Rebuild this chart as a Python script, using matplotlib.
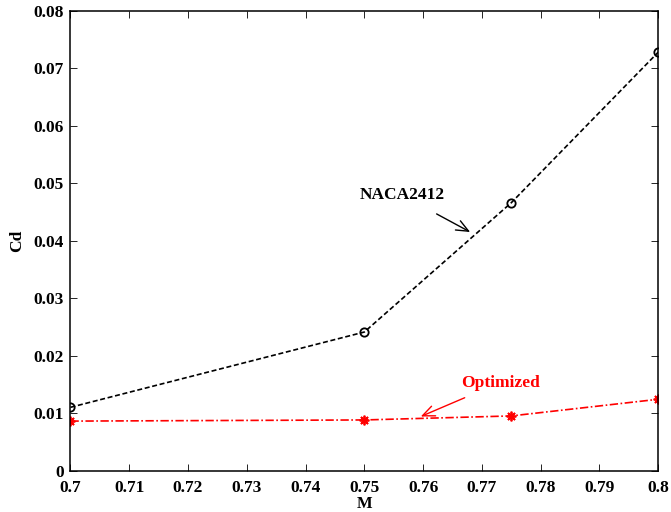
import matplotlib
matplotlib.use("Agg")
import matplotlib.pyplot as plt

M = [0.7, 0.75, 0.775, 0.8]
cd_naca = [0.0110, 0.0241, 0.0466, 0.0728]
cd_opt = [0.0086, 0.0088, 0.0095, 0.0124]
xticks = [0.7, 0.71, 0.72, 0.73, 0.74, 0.75, 0.76, 0.77, 0.78, 0.79, 0.8]
yticks = [0, 0.01, 0.02, 0.03, 0.04, 0.05, 0.06, 0.07, 0.08]

plt.rcParams['font.family'] = ['Liberation Serif', 'DejaVu Serif']
plt.rcParams['font.weight'] = 'bold'

fig = plt.figure(figsize=(6.71, 5.12), dpi=100)
ax = fig.add_axes([0.105, 0.081, 0.876, 0.898])

ax.plot(M, cd_naca, color='black', linestyle=(0, (3, 1.6)), linewidth=1.2,
        marker='o', markersize=6, markerfacecolor='none', markeredgecolor='black',
        markeredgewidth=1.3)
ax.plot(M, cd_opt, color='red', linestyle=(0, (5, 1.5, 1, 1.5)), linewidth=1.2,
        marker=(8, 2, 0), markersize=7, markeredgecolor='red', markeredgewidth=1.3)

ax.set_xlim(0.7, 0.8)
ax.set_ylim(0, 0.08)
ax.set_xticks(xticks)
ax.set_yticks(yticks)
ax.set_xticklabels([f"{v:g}" for v in xticks])
ax.set_yticklabels([f"{v:g}" for v in yticks])
ax.tick_params(direction='in', top=True, right=True, length=5, width=0.6,
               labelsize=12.5)
ax.tick_params(axis='x', pad=7)
ax.tick_params(axis='y', pad=5)
for lbl in ax.get_xticklabels() + ax.get_yticklabels():
    lbl.set_fontweight('bold')
for s in ax.spines.values():
    s.set_linewidth(1.1)

ax.set_xlabel('M', fontsize=12, fontweight='bold', labelpad=0)
ax.set_ylabel('Cd', fontsize=12.5, fontweight='bold', labelpad=6)

ax.annotate('NACA2412', xy=(0.768, 0.0415), xytext=(0.7564, 0.0479),
            ha='center', va='center', fontsize=12.5, fontweight='bold', color='black',
            arrowprops=dict(arrowstyle='->,head_length=0.7,head_width=0.3', color='black', lw=1.0,
                            shrinkA=12, shrinkB=0))
ax.annotate('Optimized', xy=(0.7596, 0.0094), xytext=(0.7731, 0.0153),
            ha='center', va='center', fontsize=12.5, fontweight='bold', color='red',
            arrowprops=dict(arrowstyle='->,head_length=0.7,head_width=0.3', color='red', lw=1.0,
                            shrinkA=8, shrinkB=0))

fig.savefig('out.png', dpi=100)
